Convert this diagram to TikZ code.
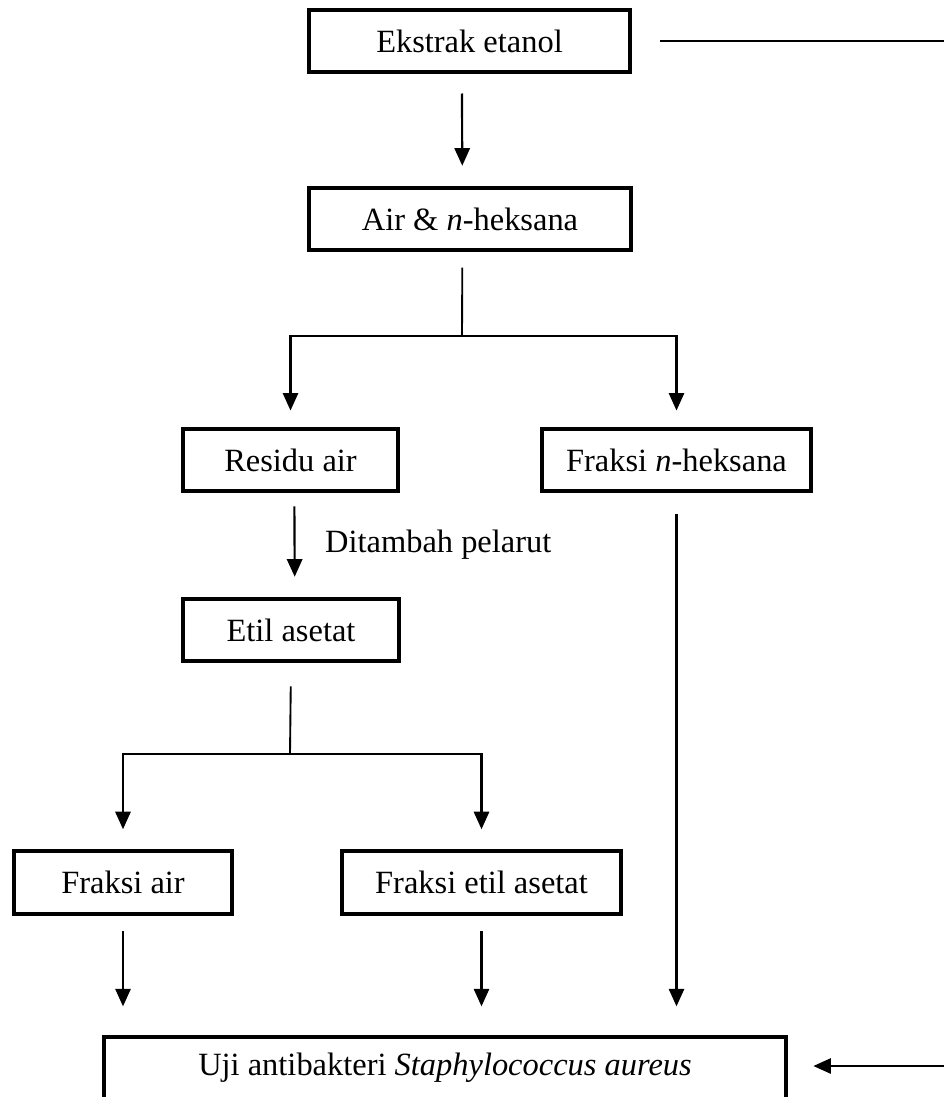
\documentclass[tikz,border=0pt]{standalone}
\usepackage{fontspec}
\setmainfont{Liberation Serif}
\usetikzlibrary{arrows.meta}

\tikzset{
    box/.style={draw, line width=1.6pt, minimum height=0.82cm, inner sep=0pt},
    arr/.style={-{Triangle[length=2.3mm,width=2mm]}, line width=0.8pt},
    ln/.style={line width=0.7pt},
}

\begin{document}
\begin{tikzpicture}[x=0.0131cm, y=-0.0131cm, font=\fontsize{12.1}{14}\selectfont]
    \useasboundingbox (0,0) rectangle (944,1097);
    \clip (0,0) rectangle (944,1097);

    \node[box, minimum width=4.21cm] (ekstrak) at (469.5,41) {Ekstrak etanol};
    \node[box, minimum width=4.22cm] (air) at (470,219) {Air \& \textit{n}-heksana};
    \node[box, minimum width=2.82cm] (residu) at (290.5,460) {Residu air};
    \node[box, minimum width=3.53cm] (heksana) at (676.5,460) {Fraksi \textit{n}-heksana};
    \node[box, minimum width=2.83cm] (etil) at (291,630) {Etil asetat};
    \node[box, minimum width=2.86cm] (fair) at (123,882.5) {Fraksi air};
    \node[box, minimum width=3.66cm] (fetil) at (481.5,882.5) {Fraksi etil asetat};
    \node[box, minimum width=8.94cm] (uji) at (445,1068) {Uji antibakteri \textit{Staphylococcus aureus}};

    \coordinate (cabang1) at (462,336);
    \coordinate (cabang2) at (290,754);
    \coordinate (kanan1) at (944,41);
    \coordinate (kanan2) at (944,1066);

    % ekstrak ke partisi
    \draw[arr, shorten <=0.25cm, shorten >=0.26cm] ([xshift=-0.1cm]ekstrak.south) -- ([xshift=-0.1cm]air.north);
    \draw[ln, shorten <=0.2cm] ([xshift=-0.1cm]air.south) -- (cabang1);
    \draw[arr, shorten >=0.21cm] (cabang1) -| (residu.north);
    \draw[arr, shorten >=0.21cm] (cabang1) -| (heksana.north);

    \draw[arr, shorten <=0.17cm, shorten >=0.26cm] ([xshift=0.05cm]residu.south) -- ([xshift=0.05cm]etil.north)
        node[midway, right=0.27cm] {Ditambah pelarut};

    \draw[ln, shorten <=0.3cm] (etil.south) -- (cabang2);
    \draw[arr, shorten >=0.26cm] (cabang2) -| (fair.north);
    \draw[arr, shorten >=0.26cm] (cabang2) -| (fetil.north);

    % ke uji antibakteri
    \draw[arr, shorten <=0.2cm, shorten >=0.37cm] (fair.south) -- (fair.south |- uji.north);
    \draw[arr, shorten <=0.2cm, shorten >=0.37cm] (fetil.south) -- (fetil.south |- uji.north);
    \draw[arr, shorten <=0.27cm, shorten >=0.37cm] (heksana.south) -- (heksana.south |- uji.north);

    \draw[ln, shorten <=0.37cm] (ekstrak.east) -- (kanan1);
    \draw[arr, shorten >=0.33cm] (kanan2) -- (kanan2 -| uji.east);
\end{tikzpicture}
\end{document}
